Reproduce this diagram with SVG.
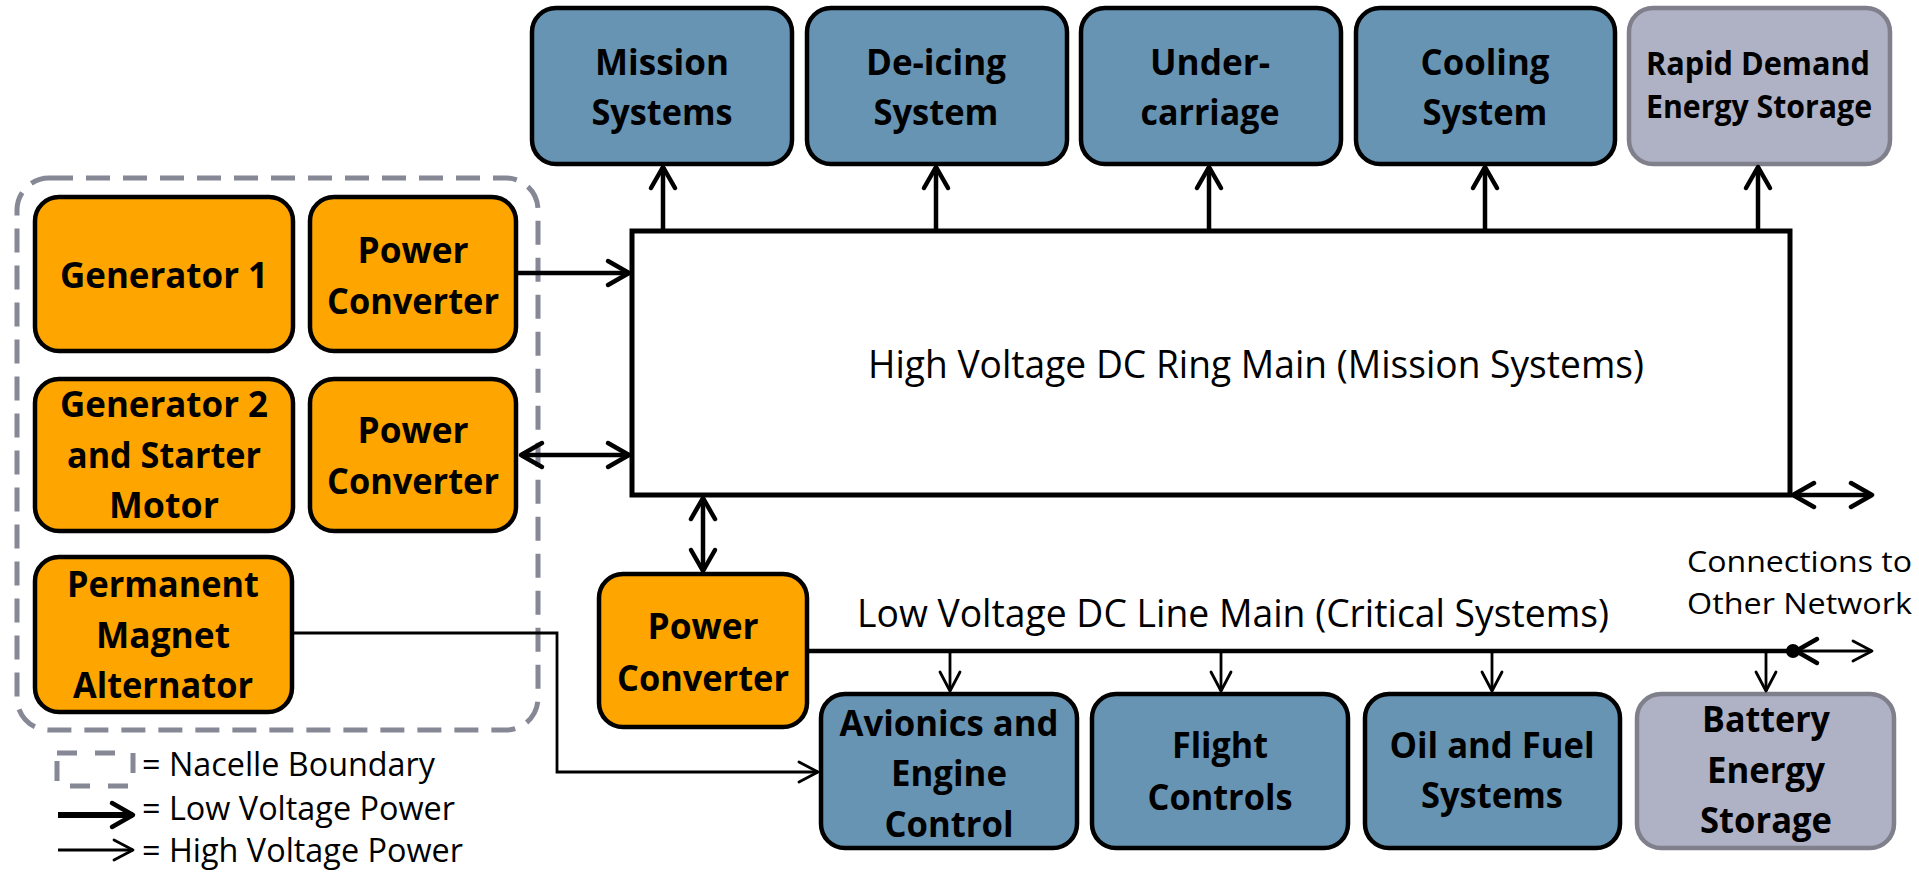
<svg xmlns="http://www.w3.org/2000/svg" width="1919" height="876" viewBox="0 0 1919 876">
  <style>
    .box { stroke: #000; stroke-width: 4.5; }
    .gen { fill: #FFA500; }
    .load { fill: #6794B3; }
    .store { fill: #AFB1C4; stroke: #80808C; stroke-width: 4.5; }
    .lbl { font-family: "Open Sans", "Liberation Sans", sans-serif; font-weight: bold; font-size: 36px; fill: #000; text-anchor: middle; }
    .lbl-s { font-size: 32px; }
    .txt { font-family: "Open Sans", "Liberation Sans", sans-serif; font-size: 38px; fill: #000; }
    .txt-s { font-size: 32px; }
    .txt-xs { font-size: 30px; }
    .hv { fill: none; stroke: #000; stroke-width: 4.5; }
    .lv { fill: none; stroke: #000; stroke-width: 2.8; }
    .nacelle { fill: none; stroke: #868896; stroke-width: 5; stroke-dasharray: 24 13; }
  </style>
  <defs>
    <marker id="headThick" markerUnits="userSpaceOnUse" viewBox="-28 -18 32 36" markerWidth="32" markerHeight="36" refX="0" refY="0" orient="auto-start-reverse">
      <path d="M-21,-12 L0,0 L-21,12" fill="none" stroke="#000" stroke-width="4.5" stroke-linecap="round" stroke-linejoin="round"/>
    </marker>
    <marker id="headThin" markerUnits="userSpaceOnUse" viewBox="-26 -16 30 32" markerWidth="30" markerHeight="32" refX="0" refY="0" orient="auto-start-reverse">
      <path d="M-19,-10 L0,0 L-19,10" fill="none" stroke="#000" stroke-width="2.8" stroke-linecap="round" stroke-linejoin="round"/>
    </marker>
  </defs>

  <rect width="1919" height="876" fill="#fff"/>

  <!-- nacelle boundary -->
  <rect id="nacelle" class="nacelle" x="17" y="178" width="521" height="552" rx="32"/>

  <!-- high voltage ring main -->
  <g id="hv-ring-main">
    <rect x="632" y="231" width="1158" height="264" fill="#fff" stroke="#000" stroke-width="5"/>
    <text class="txt" x="1256" y="378" text-anchor="middle" textLength="776" lengthAdjust="spacingAndGlyphs">High Voltage DC Ring Main (Mission Systems)</text>
  </g>

  <!-- loads on the ring main -->
  <g id="mission-systems">
    <rect class="box load" x="532" y="8" width="260" height="156" rx="24"/>
    <text class="lbl" x="662" y="75" textLength="134" lengthAdjust="spacingAndGlyphs">Mission</text>
    <text class="lbl" x="662" y="125" textLength="141" lengthAdjust="spacingAndGlyphs">Systems</text>
  </g>
  <g id="de-icing-system">
    <rect class="box load" x="807" y="8" width="260" height="156" rx="24"/>
    <text class="lbl" x="936" y="75" textLength="140" lengthAdjust="spacingAndGlyphs">De-icing</text>
    <text class="lbl" x="936" y="125" textLength="125" lengthAdjust="spacingAndGlyphs">System</text>
  </g>
  <g id="undercarriage">
    <rect class="box load" x="1081" y="8" width="260" height="156" rx="24"/>
    <text class="lbl" x="1210" y="75" textLength="120" lengthAdjust="spacingAndGlyphs">Under-</text>
    <text class="lbl" x="1210" y="125" textLength="139" lengthAdjust="spacingAndGlyphs">carriage</text>
  </g>
  <g id="cooling-system">
    <rect class="box load" x="1356" y="8" width="259" height="156" rx="24"/>
    <text class="lbl" x="1485" y="75" textLength="129" lengthAdjust="spacingAndGlyphs">Cooling</text>
    <text class="lbl" x="1485" y="125" textLength="125" lengthAdjust="spacingAndGlyphs">System</text>
  </g>
  <g id="rapid-demand-storage">
    <rect class="store" x="1629" y="8" width="261" height="156" rx="24"/>
    <text class="lbl lbl-s" x="1758" y="75" textLength="224" lengthAdjust="spacingAndGlyphs">Rapid Demand</text>
    <text class="lbl lbl-s" x="1759" y="118" textLength="226" lengthAdjust="spacingAndGlyphs">Energy Storage</text>
  </g>

  <!-- generation inside the nacelle -->
  <g id="generator-1">
    <rect class="box gen" x="35" y="197" width="258" height="154" rx="24"/>
    <text class="lbl" x="164" y="288" textLength="208" lengthAdjust="spacingAndGlyphs">Generator 1</text>
  </g>
  <g id="power-converter-1">
    <rect class="box gen" x="310" y="197" width="206" height="154" rx="24"/>
    <text class="lbl" x="413" y="263" textLength="111" lengthAdjust="spacingAndGlyphs">Power</text>
    <text class="lbl" x="413" y="314" textLength="172" lengthAdjust="spacingAndGlyphs">Converter</text>
  </g>
  <g id="generator-2">
    <rect class="box gen" x="35" y="379" width="258" height="152" rx="24"/>
    <text class="lbl" x="164" y="417" textLength="208" lengthAdjust="spacingAndGlyphs">Generator 2</text>
    <text class="lbl" x="164" y="468" textLength="194" lengthAdjust="spacingAndGlyphs">and Starter</text>
    <text class="lbl" x="164" y="518" textLength="110" lengthAdjust="spacingAndGlyphs">Motor</text>
  </g>
  <g id="power-converter-2">
    <rect class="box gen" x="310" y="379" width="206" height="152" rx="24"/>
    <text class="lbl" x="413" y="443" textLength="111" lengthAdjust="spacingAndGlyphs">Power</text>
    <text class="lbl" x="413" y="494" textLength="172" lengthAdjust="spacingAndGlyphs">Converter</text>
  </g>
  <g id="pm-alternator">
    <rect class="box gen" x="35" y="557" width="257" height="155" rx="24"/>
    <text class="lbl" x="163" y="597" textLength="192" lengthAdjust="spacingAndGlyphs">Permanent</text>
    <text class="lbl" x="163" y="648" textLength="134" lengthAdjust="spacingAndGlyphs">Magnet</text>
    <text class="lbl" x="163" y="698" textLength="180" lengthAdjust="spacingAndGlyphs">Alternator</text>
  </g>

  <!-- converter feeding the low voltage line -->
  <g id="power-converter-3">
    <rect class="box gen" x="599" y="574" width="208" height="153" rx="24"/>
    <text class="lbl" x="703" y="639" textLength="111" lengthAdjust="spacingAndGlyphs">Power</text>
    <text class="lbl" x="703" y="691" textLength="172" lengthAdjust="spacingAndGlyphs">Converter</text>
  </g>

  <!-- low voltage line main label and network connection note -->
  <g id="lv-line-main">
    <text class="txt" x="857" y="627" textLength="752" lengthAdjust="spacingAndGlyphs">Low Voltage DC Line Main (Critical Systems)</text>
  </g>
  <g id="other-network">
    <text class="txt txt-xs" x="1687" y="572" textLength="225" lengthAdjust="spacingAndGlyphs">Connections to</text>
    <text class="txt txt-xs" x="1687" y="614" textLength="225" lengthAdjust="spacingAndGlyphs">Other Network</text>
  </g>

  <!-- critical loads -->
  <g id="avionics-engine-control">
    <rect class="box load" x="821" y="694" width="256" height="154" rx="24"/>
    <text class="lbl" x="949" y="736" textLength="219" lengthAdjust="spacingAndGlyphs">Avionics and</text>
    <text class="lbl" x="949" y="786" textLength="116" lengthAdjust="spacingAndGlyphs">Engine</text>
    <text class="lbl" x="949" y="837" textLength="129" lengthAdjust="spacingAndGlyphs">Control</text>
  </g>
  <g id="flight-controls">
    <rect class="box load" x="1092" y="694" width="256" height="154" rx="24"/>
    <text class="lbl" x="1220" y="758" textLength="96" lengthAdjust="spacingAndGlyphs">Flight</text>
    <text class="lbl" x="1220" y="810" textLength="145" lengthAdjust="spacingAndGlyphs">Controls</text>
  </g>
  <g id="oil-fuel-systems">
    <rect class="box load" x="1365" y="694" width="255" height="154" rx="24"/>
    <text class="lbl" x="1492" y="758" textLength="205" lengthAdjust="spacingAndGlyphs">Oil and Fuel</text>
    <text class="lbl" x="1492" y="808" textLength="142" lengthAdjust="spacingAndGlyphs">Systems</text>
  </g>
  <g id="battery-storage">
    <rect class="store" x="1637" y="694" width="257" height="154" rx="24"/>
    <text class="lbl" x="1766" y="732" textLength="128" lengthAdjust="spacingAndGlyphs">Battery</text>
    <text class="lbl" x="1766" y="783" textLength="118" lengthAdjust="spacingAndGlyphs">Energy</text>
    <text class="lbl" x="1766" y="833" textLength="132" lengthAdjust="spacingAndGlyphs">Storage</text>
  </g>

  <!-- connectors -->
  <g id="connectors">
    <!-- ring main up to its loads -->
    <path class="hv" d="M663,229 V167" marker-end="url(#headThick)"/>
    <path class="hv" d="M936,229 V167" marker-end="url(#headThick)"/>
    <path class="hv" d="M1209,229 V167" marker-end="url(#headThick)"/>
    <path class="hv" d="M1485,229 V167" marker-end="url(#headThick)"/>
    <path class="hv" d="M1758,229 V167" marker-end="url(#headThick)"/>
    <!-- converters to ring main -->
    <path class="hv" d="M518,273 H629" marker-end="url(#headThick)"/>
    <path class="hv" d="M521,455 H629" marker-start="url(#headThick)" marker-end="url(#headThick)"/>
    <path class="hv" d="M703,498 V571" marker-start="url(#headThick)" marker-end="url(#headThick)"/>
    <!-- ring main to other network -->
    <path class="hv" d="M1793,495 H1872" marker-start="url(#headThick)" marker-end="url(#headThick)"/>
    <!-- low voltage line main -->
    <path d="M807,651 H1792" fill="none" stroke="#000" stroke-width="4.5"/>
    <circle cx="1793" cy="651" r="7" fill="#000"/>
    <path class="lv" d="M1796,651 H1872" marker-start="url(#headThick)" marker-end="url(#headThin)"/>
    <!-- line main drops to critical loads -->
    <path class="lv" d="M950,651 V691" marker-end="url(#headThin)"/>
    <path class="lv" d="M1221,651 V691" marker-end="url(#headThin)"/>
    <path class="lv" d="M1492,651 V691" marker-end="url(#headThin)"/>
    <path class="lv" d="M1766,651 V691" marker-end="url(#headThin)"/>
    <!-- permanent magnet alternator feed -->
    <path class="lv" d="M294,633 H557 V772 H818" marker-end="url(#headThin)"/>
  </g>

  <!-- legend -->
  <g id="legend">
    <rect x="57" y="753" width="76" height="33" fill="none" stroke="#868896" stroke-width="5" stroke-dasharray="20 18"/>
    <text class="txt txt-s" x="142" y="776" textLength="293" lengthAdjust="spacingAndGlyphs">= Nacelle Boundary</text>
    <path d="M58,815 H133" fill="none" stroke="#000" stroke-width="6" marker-end="url(#headThick)"/>
    <text class="txt txt-s" x="142" y="820" textLength="313" lengthAdjust="spacingAndGlyphs">= Low Voltage Power</text>
    <path class="lv" d="M58,850 H133" marker-end="url(#headThin)"/>
    <text class="txt txt-s" x="142" y="862" textLength="321" lengthAdjust="spacingAndGlyphs">= High Voltage Power</text>
  </g>
</svg>
